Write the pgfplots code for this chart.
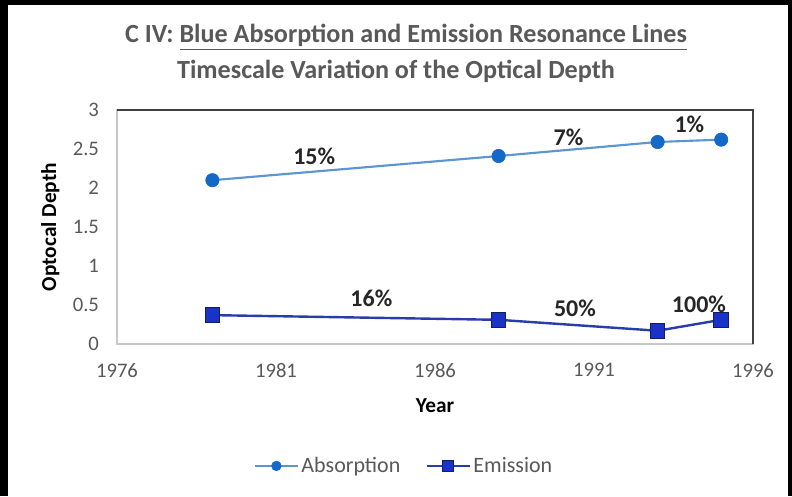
\documentclass[border=0pt]{standalone}
\usepackage{pgfplots}
\pgfplotsset{compat=1.18}
\usepackage{fontspec}
\setmainfont{Carlito}
\definecolor{absl}{RGB}{91,150,210}
\definecolor{absm}{RGB}{20,105,200}
\definecolor{emil}{RGB}{40,60,170}
\definecolor{emim}{RGB}{25,50,200}
\definecolor{emib}{RGB}{20,30,90}
\definecolor{txt}{RGB}{89,89,89}
\definecolor{frame}{RGB}{200,200,200}
\pgfplotsset{
  legabs/.style={legend image code/.code={\draw[mark repeat=2,mark phase=2,##1,mark size=3.6pt] plot coordinates {(0pt,0pt) (16pt,0pt) (32pt,0pt)};}},
  legemi/.style={legend image code/.code={\draw[mark repeat=2,mark phase=2,##1,mark size=4pt] plot coordinates {(0pt,0pt) (16pt,0pt) (32pt,0pt)};}},
}
\begin{document}
\begin{tikzpicture}[x=0.75pt,y=0.75pt]
\fill[black] (0,0) rectangle (792,496);
\fill[white] (8,0) rectangle (788,491);
\node[txt,font=\bfseries\fontsize{19.6}{22}\selectfont] at (406,496-37) {C IV: \underline{Blue Absorption and Emission Resonance Lines}};
\node[txt,font=\bfseries\fontsize{19.6}{22}\selectfont] at (396,496-71) {Timescale Variation of the Optical Depth};
\begin{axis}[
  at={(87.75pt,114pt)}, anchor=south west,
  scale only axis, width=477pt, height=175.5pt,
  xmin=1976, xmax=1996, ymin=0, ymax=3,
  xtick={1976,1981,1986,1991,1996},
  ytick={0,0.5,1,1.5,2,2.5,3},
  major tick length=0pt,
  /pgf/number format/assume math mode=true,
  /pgf/number format/1000 sep={},
  tick label style={txt,font=\fontsize{15.5}{18}\selectfont},
  xticklabel style={yshift=-11pt},
  yticklabel style={xshift=-10pt},
  axis line style={draw=frame, line width=0.8pt},
  xlabel={Year}, ylabel={Optocal Depth},
  label style={black,font=\bfseries\fontsize{16}{19}\selectfont},
  xlabel style={at={(axis description cs:0.5,-0.262)},anchor=center},
  ylabel style={at={(axis description cs:-0.105,0.5)},anchor=center},
  legend columns=2,
  legend style={at={(axis description cs:0.452,-0.521)},anchor=center,draw=none,
    font=\fontsize{16.5}{19}\selectfont, text=txt,
    /tikz/every even column/.append style={column sep=17pt}},
  legend cell align=left,
  clip=false,
]
\addplot[absl, line width=1.6pt, mark=*, mark size=5pt, mark options={fill=absm, draw=absm, line width=0.5pt}, legabs]
  coordinates {(1979,2.10) (1988,2.41) (1993,2.59) (1995,2.62)};
\addlegendentry{Absorption}
\addplot[emil, line width=1.8pt, mark=square*, mark size=5.5pt, mark options={fill=emim, draw=emib, line width=0.8pt}, legemi]
  coordinates {(1979,0.37) (1988,0.31) (1993,0.17) (1995,0.31)};
\addlegendentry{Emission}
\draw[black!75, line width=1.2pt] (rel axis cs:0,1) -- (rel axis cs:1,1) -- (rel axis cs:1,0);
\begin{scope}[every node/.style={font=\bfseries\fontsize{18}{21}\selectfont, text=black!85}]
\node at (axis cs:1982.2,2.40) {15\%};
\node at (axis cs:1990.2,2.65) {7\%};
\node at (axis cs:1994.0,2.82) {1\%};
\node at (axis cs:1984.0,0.59) {16\%};
\node at (axis cs:1990.4,0.46) {50\%};
\node at (axis cs:1994.3,0.51) {100\%};
\end{scope}
\end{axis}
\end{tikzpicture}
\end{document}
